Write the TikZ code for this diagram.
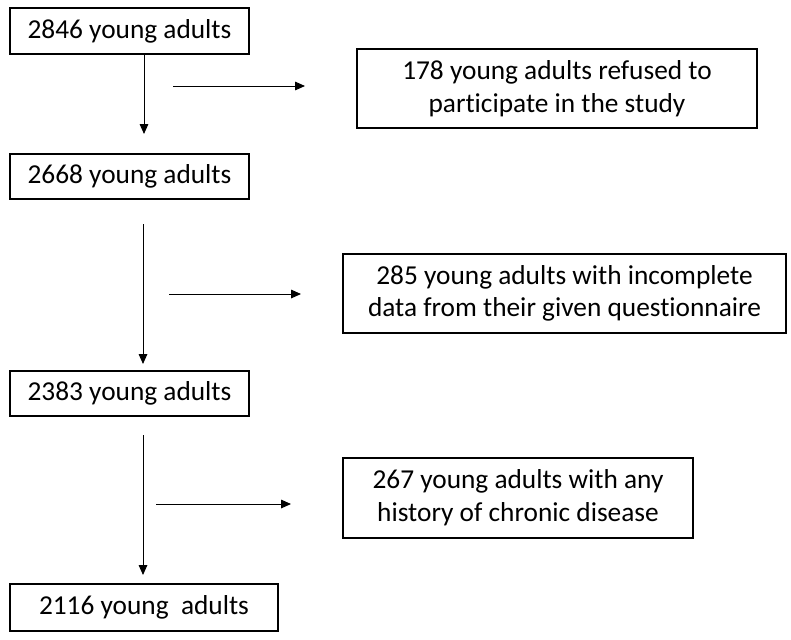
\documentclass[tikz,border=0pt]{standalone}
\usepackage{fontspec}
\setmainfont[Ligatures=NoCommon]{Carlito}
\usetikzlibrary{arrows.meta}
\begin{document}
\begin{tikzpicture}[x=0.75pt,y=-0.75pt,
  box/.style={draw=black,line width=1pt,inner sep=0pt,font=\fontsize{20.5}{24.5}\selectfont,align=center},
  arr/.style={line width=0.75pt,-{Triangle[length=7.5pt,width=6.5pt]}}]
\useasboundingbox (0,0) rectangle (791,639);
% left boxes
\node[box,minimum width=239*0.75pt,minimum height=46*0.75pt] (b1) at (129.5,31) {2846 young adults};
\node[box,minimum width=239*0.75pt,minimum height=45*0.75pt] (b2) at (129.5,176.5) {2668 young adults};
\node[box,minimum width=239*0.75pt,minimum height=45*0.75pt] (b3) at (129.5,393.5) {2383 young adults};
\node[box,minimum width=268*0.75pt,minimum height=47*0.75pt] (b4) at (144,607.5) {2116 young\ \ adults};
% right boxes
\node[box,minimum width=400*0.75pt,minimum height=79*0.75pt] (r1) at (557,88.5) {178 young adults refused to\\participate in the study};
\node[box,minimum width=443*0.75pt,minimum height=79*0.75pt] (r2) at (564.5,293.5) {285 young adults with incomplete\\data from their given questionnaire};
\node[box,minimum width=350*0.75pt,minimum height=80*0.75pt] (r3) at (518,498) {267 young adults with any\\history of chronic disease};
% arrow end points
\coordinate (v1s) at (144,54);  \coordinate (v1e) at (144,134);
\coordinate (v2s) at (143,224); \coordinate (v2e) at (143,364);
\coordinate (v3s) at (143,435); \coordinate (v3e) at (143,575);
\coordinate (h1s) at (173,86);  \coordinate (h1e) at (305,86);
\coordinate (h2s) at (169,294); \coordinate (h2e) at (301,294);
\coordinate (h3s) at (156,504); \coordinate (h3e) at (291,504);
\draw[arr] (v1s) -- (v1e);
\draw[arr] (v2s) -- (v2e);
\draw[arr] (v3s) -- (v3e);
\draw[arr] (h1s) -- (h1e);
\draw[arr] (h2s) -- (h2e);
\draw[arr] (h3s) -- (h3e);
\end{tikzpicture}
\end{document}
